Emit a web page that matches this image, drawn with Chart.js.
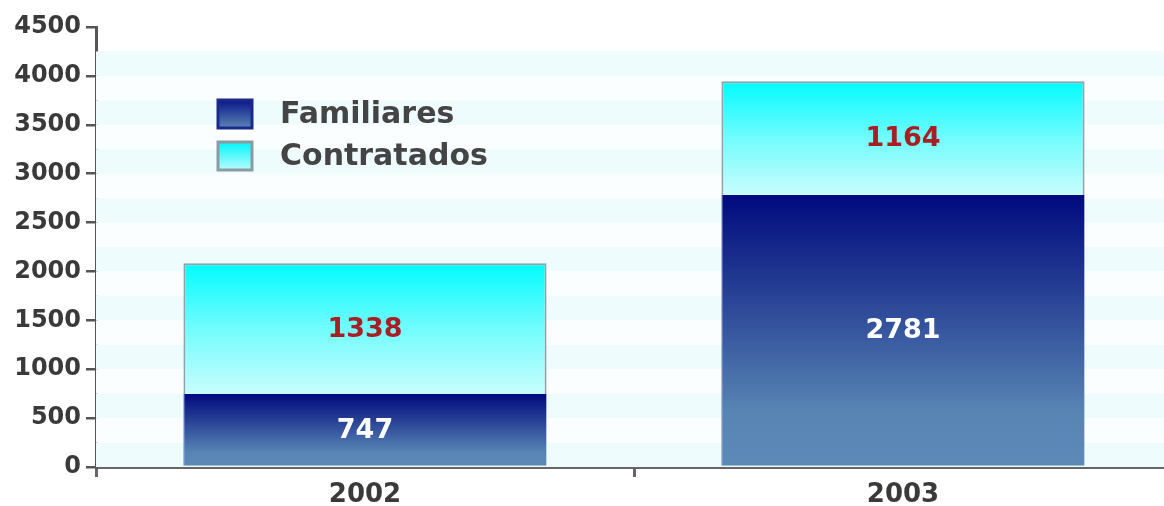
<!DOCTYPE html>
<html>
<head>
<meta charset="utf-8">
<script src="https://cdn.jsdelivr.net/npm/chart.js@4/dist/chart.umd.min.js"></script>
<style>
  html, body { margin: 0; padding: 0; background: #ffffff; overflow: hidden; }
  #wrap { width: 1180px; height: 506px; position: relative; }
</style>
</head>
<body>
<div id="wrap"><canvas id="chart"></canvas></div>
<script>
// Personnel by type, per year
const years = ['2002', '2003'];
const familiares = [747, 2781];
const contratados = [1338, 1164];
const yMin = 0;
const yMax = 4500;
const yStep = 500;

const FONT = "'DejaVu Sans', 'Liberation Sans', sans-serif";

const famStops = [[0, '#000a7e'], [0.35, '#263f94'], [0.8, '#5885b4'], [1, '#5c89b6']];
const conStops = [[0, '#00fbff'], [0.5, '#72fcfd'], [1, '#c8fdfd']];

function gradient(ctx, top, bottom, stops) {
  const g = ctx.createLinearGradient(0, top, 0, bottom);
  stops.forEach(([o, c]) => g.addColorStop(o, c));
  return g;
}

// Vertical gradient spanning one stacked segment, from its top to its base
function segmentFill(stops, startOf, endOf, fallback) {
  return (c) => {
    const chart = c.chart;
    if (!chart.chartArea || c.type !== 'data' || !chart.scales.y) return fallback;
    const y = chart.scales.y;
    const i = c.dataIndex;
    return gradient(chart.ctx, y.getPixelForValue(endOf(i)), y.getPixelForValue(startOf(i)), stops);
  };
}

// Alternating pale bands behind the bars
const bandPlugin = {
  id: 'bands',
  beforeDatasetsDraw(chart) {
    const { ctx, chartArea: a, scales: { y } } = chart;
    ctx.save();
    for (let v = yMin; v < yMax - 250; v += 250) {
      const top = y.getPixelForValue(v + 250);
      const bot = y.getPixelForValue(v);
      ctx.fillStyle = ((v / 250) % 2 === 0) ? '#eefcfd' : '#fbfefe';
      ctx.fillRect(a.left, top, a.right - a.left, bot - top);
    }
    ctx.restore();
  }
};

// Value written in the middle of each segment
const valuePlugin = {
  id: 'values',
  afterDatasetsDraw(chart) {
    const ctx = chart.ctx;
    ctx.save();
    ctx.font = `bold 27px ${FONT}`;
    ctx.textAlign = 'center';
    ctx.textBaseline = 'middle';
    chart.data.datasets.forEach((ds, di) => {
      chart.getDatasetMeta(di).data.forEach((bar, i) => {
        ctx.fillStyle = ds.valueColor;
        ctx.fillText(String(ds.data[i]), bar.x, (bar.y + bar.base) / 2 + 1);
      });
    });
    ctx.restore();
  }
};

// Legend inside the plot, upper left
const legendPlugin = {
  id: 'innerLegend',
  afterDatasetsDraw(chart) {
    const { ctx, chartArea: a } = chart;
    const x0 = a.left + 122;
    const rows = [a.top + 87, a.top + 129];
    ctx.save();
    chart.data.datasets.forEach((ds, di) => {
      const cy = rows[di];
      const bx = x0, by = cy - 14, bw = 34, bh = 28;
      ctx.fillStyle = gradient(ctx, by, by + bh, ds.legendStops);
      ctx.fillRect(bx, by, bw, bh);
      ctx.lineWidth = 3;
      ctx.strokeStyle = ds.legendBorder;
      ctx.strokeRect(bx, by, bw, bh);
      ctx.fillStyle = '#444444';
      ctx.font = `bold 30px ${FONT}`;
      ctx.textAlign = 'left';
      ctx.textBaseline = 'middle';
      ctx.fillText(ds.label, bx + 62, cy + 1);
    });
    ctx.restore();
  }
};

new Chart(document.getElementById('chart'), {
  type: 'bar',
  data: {
    labels: years,
    datasets: [
      {
        label: 'Familiares',
        data: familiares,
        backgroundColor: segmentFill(famStops, () => 0, (i) => familiares[i], '#5c89b6'),
        borderColor: '#2a3aa8',
        borderWidth: { left: 1, right: 0, top: 0, bottom: 0 },
        borderSkipped: false,
        valueColor: '#ffffff',
        legendStops: [[0, '#0a1488'], [1, '#5a86b4']],
        legendBorder: '#1a2a8a'
      },
      {
        label: 'Contratados',
        data: contratados,
        backgroundColor: segmentFill(conStops, (i) => familiares[i], (i) => familiares[i] + contratados[i], '#7ffcfd'),
        borderColor: '#8ea2aa',
        borderWidth: { left: 2, right: 2, top: 2, bottom: 0 },
        borderSkipped: false,
        valueColor: '#a81e22',
        legendStops: [[0, '#00f6fb'], [1, '#b8fcfd']],
        legendBorder: '#8a9ca2'
      }
    ]
  },
  options: {
    responsive: true,
    maintainAspectRatio: false,
    animation: false,
    layout: { padding: { left: 10, top: 27, right: 8, bottom: 0 } },
    plugins: {
      legend: { display: false },
      tooltip: { enabled: false }
    },
    datasets: {
      bar: { categoryPercentage: 1.0, barPercentage: 0.675 }
    },
    scales: {
      x: {
        stacked: true,
        grid: { drawOnChartArea: false, drawTicks: true, tickLength: 10, color: '#666666', lineWidth: 3, offset: true },
        border: { color: '#666666', width: 3 },
        ticks: { color: '#3a3a3a', font: { family: FONT, size: 26, weight: 'bold' }, padding: 3 },
        afterFit(s) { s.height = 39; }
      },
      y: {
        stacked: true,
        min: yMin,
        max: yMax,
        grid: { drawOnChartArea: false, drawTicks: true, tickLength: 10, color: '#555555', lineWidth: 2.5 },
        border: { color: '#555555', width: 3 },
        ticks: {
          stepSize: yStep,
          color: '#3a3a3a',
          font: { family: FONT, size: 24, weight: 'bold' },
          padding: 5,
          callback: (v) => String(v)
        },
        afterFit(s) { s.width = 86; }
      }
    }
  },
  plugins: [bandPlugin, valuePlugin, legendPlugin]
});
</script>
</body>
</html>
